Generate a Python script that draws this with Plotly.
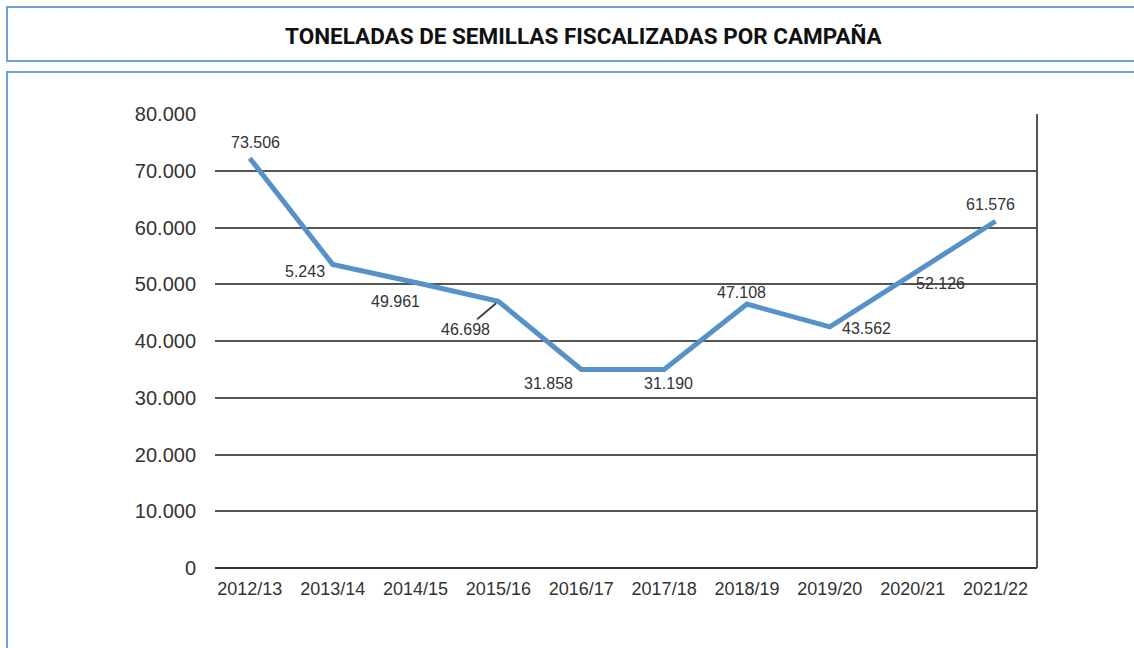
import plotly.graph_objects as go

# ---- data ----
campaigns = ["2012/13", "2013/14", "2014/15", "2015/16", "2016/17",
             "2017/18", "2018/19", "2019/20", "2020/21", "2021/22"]
# plotted positions of the line (tonnes)
tonnes = [72200, 53500, 50300, 47000, 35000, 35000, 46500, 42500, 51800, 61100]
# data-label texts as printed in the picture
label_texts = ["73.506", "5.243", "49.961", "46.698", "31.858",
               "31.190", "47.108", "43.562", "52.126", "61.576"]
y_ticks = [0, 10000, 20000, 30000, 40000, 50000, 60000, 70000, 80000]

# label offsets relative to points (pixels: dx right, dy down)
label_dx = [6, -28, -20, -33, -33, 4, -5, 37, 28, -5]
label_dy = [-16, 7, 19, 28, 14, 14, -12, 2, 9, -17]
leader = [False, False, False, True, False, False, False, False, False, False]

W, H = 1134, 648
L, R, T, B = 215, 1037, 114, 568

fig = go.Figure()
fig.add_trace(go.Scatter(
    x=campaigns, y=tonnes, mode="lines",
    line=dict(color="#5692c7", width=5),
    hoverinfo="x+y", showlegend=False,
))

lab_font = dict(family="Liberation Sans, Arial", size=16, color="#333333")
annotations = []
for c, v, t, dx, dy, ld in zip(campaigns, tonnes, label_texts, label_dx, label_dy, leader):
    if ld:
        annotations.append(dict(
            x=c, y=v, xref="x", yref="y", text=t, showarrow=True,
            ax=dx, ay=dy, arrowhead=0, arrowwidth=2, arrowcolor="#444444",
            standoff=3, font=lab_font,
        ))
    else:
        annotations.append(dict(
            x=c, y=v, xref="x", yref="y", text=t, showarrow=False,
            xshift=dx, yshift=-dy, xanchor="center", yanchor="middle",
            font=lab_font,
        ))

pw, ph = R - L, B - T
def px(x):
    return (x - L) / pw
def py(y):
    return (B - y) / ph

annotations.append(dict(
    x=px(584), y=py(36), xref="paper", yref="paper",
    text="<b>TONELADAS DE SEMILLAS FISCALIZADAS POR CAMPAÑA</b>",
    showarrow=False, xanchor="center", yanchor="middle",
    font=dict(family="Liberation Sans Narrow, Arial Narrow, Roboto, sans-serif", size=22.5, color="#111111"),
))

box_color = "#6fa1d6"
shapes = [
    # title box
    dict(type="rect", xref="paper", yref="paper", x0=px(7), x1=px(1200), y0=py(61), y1=py(7),
         line=dict(color=box_color, width=2), fillcolor="rgba(0,0,0,0)", layer="below"),
    # chart box
    dict(type="rect", xref="paper", yref="paper", x0=px(7), x1=px(1200), y0=py(720), y1=py(72),
         line=dict(color=box_color, width=2), fillcolor="rgba(0,0,0,0)", layer="below"),
    # right plot border
    dict(type="line", xref="paper", yref="paper", x0=1, x1=1, y0=0, y1=1,
         line=dict(color="#555555", width=2)),
]

fig.update_layout(
    width=W, height=H,
    margin=dict(l=L, r=W - R, t=T, b=H - B, pad=0),
    paper_bgcolor="white", plot_bgcolor="white",
    separators=",.",
    annotations=annotations, shapes=shapes,
    showlegend=False,
)
fig.update_xaxes(
    type="category", range=[-0.42, 9.5],
    showgrid=False, zeroline=False, showline=False, ticks="",
    tickfont=dict(family="Liberation Sans, Arial", size=18, color="#333333"),
    ticklabelstandoff=8,
)
fig.update_yaxes(
    range=[0, 80000], tickvals=y_ticks, tickformat=",.0f",
    showgrid=True, gridcolor="#555555", gridwidth=1.5,
    zeroline=True, zerolinecolor="#333333", zerolinewidth=2,
    showline=False, ticks="",
    tickfont=dict(family="Liberation Sans, Arial", size=20, color="#333333"),
    ticklabelstandoff=18,
)

fig.write_html(
    "out.html",
    config={"displayModeBar": False},
    post_script="document.body.style.margin='0';document.body.style.overflow='hidden';",
)
